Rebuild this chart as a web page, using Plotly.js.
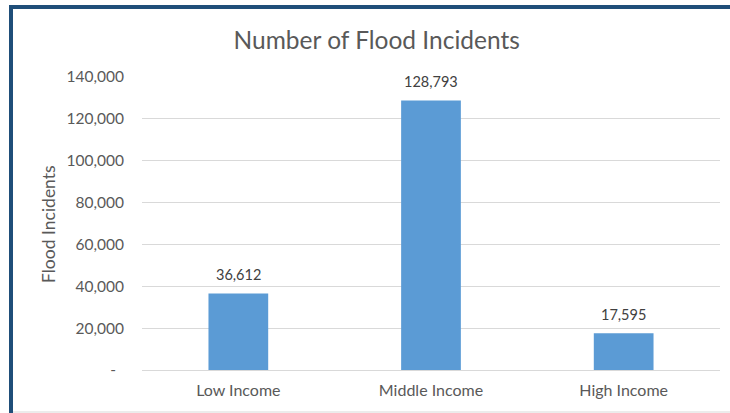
<!DOCTYPE html>
<html>
<head>
<meta charset="utf-8">
<script src="https://cdn.plot.ly/plotly-3.0.1.min.js"></script>
<style>
html,body{margin:0;padding:0;background:#fff;}
#chart{width:730px;height:413px;}
</style>
</head>
<body>
<div id="chart"></div>
<script>
const categories = ["Low Income", "Middle Income", "High Income"];
const incidents = [36612, 128793, 17595];
const tickValues = [0, 20000, 40000, 60000, 80000, 100000, 120000, 140000];
const tickLabels = ["-\u00a0\u00a0", "20,000", "40,000", "60,000", "80,000", "100,000", "120,000", "140,000"];

const L = 142, R = 10, T = 77, B = 43, W = 730, H = 413;
const pw = W - L - R, ph = H - T - B;
const px = p => (p - L) / pw;
const py = p => (H - B - p) / ph;

const fontFam = "Lato, 'Open Sans', sans-serif";
const grey = "#595959";

const trace = {
  type: "bar",
  x: categories,
  y: incidents,
  marker: {color: "#5b9bd5"},
  hoverinfo: "none"
};

const labelAnn = categories.map((c, i) => ({
  x: c, y: incidents[i], xref: "x", yref: "y",
  text: incidents[i].toLocaleString("en-US"),
  showarrow: false, yanchor: "middle", yshift: 19,
  font: {family: fontFam, size: 14.5, color: "#404040"}
}));

const layout = {
  width: W, height: H,
  margin: {l: L, r: R, t: T, b: B, pad: 0},
  paper_bgcolor: "#ffffff",
  plot_bgcolor: "#ffffff",
  showlegend: false,
  bargap: 0.69,
  font: {family: fontFam, color: grey},
  title: {
    text: "Number of Flood Incidents",
    font: {family: fontFam, size: 24.5, color: grey},
    xref: "container", x: 0.516, xanchor: "center",
    yref: "container", y: 1 - 40 / H, yanchor: "middle"
  },
  xaxis: {
    type: "category",
    showgrid: false, zeroline: false, showline: false,
    ticks: "",
    tickfont: {family: fontFam, size: 16, color: grey},
    ticklabelstandoff: 9
  },
  yaxis: {
    range: [0, 140000],
    tickvals: tickValues, ticktext: tickLabels,
    showgrid: true, gridcolor: "#d9d9d9", gridwidth: 1,
    zeroline: true, zerolinecolor: "#d9d9d9", zerolinewidth: 1,
    showline: false, ticks: "",
    tickfont: {family: fontFam, size: 15.5, color: grey},
    ticklabelstandoff: 17
  },
  annotations: labelAnn.concat([{
    text: "Flood Incidents",
    xref: "paper", yref: "paper",
    x: px(48), y: py(224),
    showarrow: false, textangle: -90,
    xanchor: "center", yanchor: "middle",
    font: {family: fontFam, size: 17.5, color: grey}
  }]),
  shapes: [
    {type: "rect", xref: "paper", yref: "paper", x0: px(9), x1: px(731), y0: py(9), y1: py(5), fillcolor: "#1f4e79", line: {width: 0}, layer: "above"},
    {type: "rect", xref: "paper", yref: "paper", x0: px(9), x1: px(13), y0: py(414), y1: py(5), fillcolor: "#1f4e79", line: {width: 0}, layer: "above"},
    {type: "line", xref: "paper", yref: "paper", x0: px(13), x1: px(731), y0: py(412), y1: py(412), line: {color: "#d9d9d9", width: 1}, layer: "above"}
  ]
};

Plotly.newPlot("chart", [trace], layout, {displayModeBar: false, staticPlot: true});
</script>
</body>
</html>
